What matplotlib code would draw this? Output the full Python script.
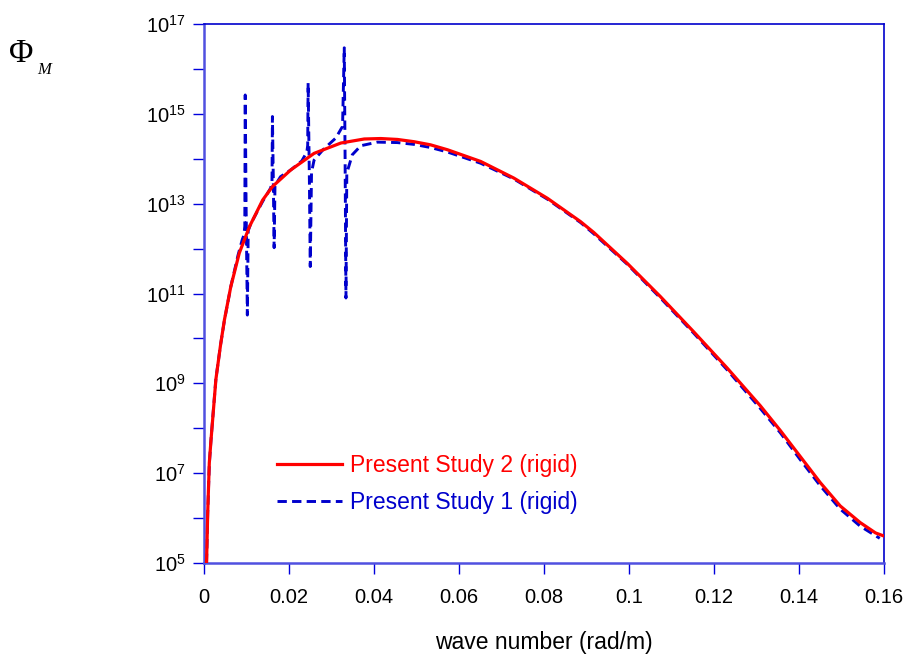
import numpy as np
import matplotlib
matplotlib.use("Agg")
import matplotlib.pyplot as plt

plt.rcParams['font.family'] = ['Liberation Sans', 'DejaVu Sans']
plt.rcParams['mathtext.fontset'] = 'custom'
plt.rcParams['mathtext.rm'] = 'Liberation Sans'
plt.rcParams['mathtext.it'] = 'Liberation Sans:italic'

# Present Study 2 (rigid): wave number and log10(Phi_M)
x_study2 = [0.0006, 0.00087, 0.00125, 0.00165, 0.0028, 0.0039, 0.0048, 0.0063,
            0.0083, 0.0107, 0.0138, 0.0161, 0.0204, 0.0259, 0.0322, 0.0377,
            0.0416, 0.0455, 0.0494, 0.0533, 0.0573, 0.0651, 0.0729, 0.0808, 0.0886, 0.0917,
            0.0996, 0.1074, 0.1152, 0.1231, 0.1309, 0.1356, 0.1403, 0.1450,
            0.1497, 0.1544, 0.1580, 0.1600]
logy_study2 = [5.0, 6.11, 7.23, 7.74, 9.09, 9.86, 10.41, 11.15,
               11.9, 12.49, 13.08, 13.38, 13.75, 14.12, 14.35, 14.44,
               14.45, 14.43, 14.38, 14.31, 14.2, 13.94, 13.57, 13.12, 12.6, 12.36,
               11.67, 10.93, 10.15, 9.34, 8.5, 7.95, 7.37, 6.79,
               6.27, 5.9, 5.67, 5.6]

# Present Study 1 (rigid)
x_study1 = [0.0006, 0.00087, 0.00125, 0.00165, 0.0028, 0.0039, 0.0048, 0.0063,
            0.0080, 0.0090, 0.0094, 0.0096, 0.0097, 0.0099, 0.0102, 0.0104,
            0.0110, 0.0138, 0.0157, 0.0160, 0.0161, 0.0163, 0.0165, 0.0167,
            0.0180, 0.0204, 0.0230, 0.0242, 0.0244, 0.0245, 0.0248, 0.0250,
            0.0253, 0.0259, 0.0280, 0.0310, 0.0326, 0.0330, 0.0332, 0.0334,
            0.0336, 0.0349, 0.0369, 0.0408, 0.0455, 0.0494, 0.0533, 0.0573, 0.0651,
            0.0729, 0.0808, 0.0886, 0.0917, 0.0996, 0.1074, 0.1152, 0.1231,
            0.1309, 0.1356, 0.1403, 0.1450, 0.1497, 0.1544, 0.1583, 0.1590]
logy_study1 = [5.0, 6.1, 7.2, 7.75, 9.1, 9.86, 10.4, 11.15,
               11.85, 12.2, 12.3, 12.5, 15.42, 13.0, 10.52, 12.4,
               12.55, 13.05, 13.35, 13.5, 14.94, 13.6, 12.02, 13.4,
               13.6, 13.75, 13.95, 14.15, 14.3, 15.69, 13.5, 11.6,
               13.7, 13.97, 14.2, 14.46, 14.72, 16.47, 14.0, 10.9,
               13.68, 14.09, 14.29, 14.37, 14.36, 14.32, 14.25, 14.15, 13.9,
               13.55, 13.1, 12.58, 12.33, 11.65, 10.9, 10.12, 9.3,
               8.44, 7.9, 7.3, 6.72, 6.2, 5.82, 5.59, 5.55]

x_ticks = [0, 0.02, 0.04, 0.06, 0.08, 0.1, 0.12, 0.14, 0.16]
x_tick_labels = ['0', '0.02', '0.04', '0.06', '0.08', '0.1', '0.12', '0.14', '0.16']
y_exponents = list(range(5, 18))

fig = plt.figure(figsize=(9.09, 6.59), dpi=100)
ax = fig.add_axes([204/909, 1-563/659, 680/909, 539/659])

ax.plot(x_study2, 10.0**np.array(logy_study2), color='#ff0000', lw=2.3,
        label='Present Study 2 (rigid)', zorder=3)
ax.plot(x_study1, 10.0**np.array(logy_study1), color='#0000cc', lw=2.1,
        dashes=(3.2, 1.8), label='Present Study 1 (rigid)', zorder=2)

ax.set_yscale('log')
ax.set_xlim(0, 0.16)
ax.set_ylim(1e5, 1e17)
ax.set_xticks(x_ticks)
ax.set_xticklabels(x_tick_labels)
ax.set_yticks([10.0**e for e in y_exponents])
ax.set_yticklabels([r'$\mathregular{10^{%d}}$' % e if e % 2 == 1 else '' for e in y_exponents])
ax.yaxis.set_minor_locator(matplotlib.ticker.NullLocator())

ax.tick_params(axis='both', direction='out', length=8, width=1, color='#0000dd',
               labelsize=14.5, labelcolor='black', pad=5)
ax.tick_params(axis='x', pad=10)

for s in ['top', 'right']:
    ax.spines[s].set_color('#0000cc')
    ax.spines[s].set_linewidth(1.2)
for s in ['left', 'bottom']:
    ax.spines[s].set_color('#5050e0')
    ax.spines[s].set_linewidth(1.8)

ax.set_xlabel('wave number (rad/m)', fontsize=16.5, labelpad=17)

fig.text(9/909, 1-54/659, 'Φ', fontsize=24, family='Liberation Serif',
         va='center', ha='left')
fig.text(37/909, 1-70/659, 'M', fontsize=12, family='Liberation Serif',
         style='italic', va='center', ha='left')

leg = ax.legend(loc='upper left', bbox_to_anchor=(0.107, 0.203), frameon=False,
                fontsize=16.5, handlelength=2.85, handletextpad=0.35,
                labelspacing=0.62, borderpad=0, borderaxespad=0,
                labelcolor='linecolor')

fig.savefig('out.png', dpi=100)
